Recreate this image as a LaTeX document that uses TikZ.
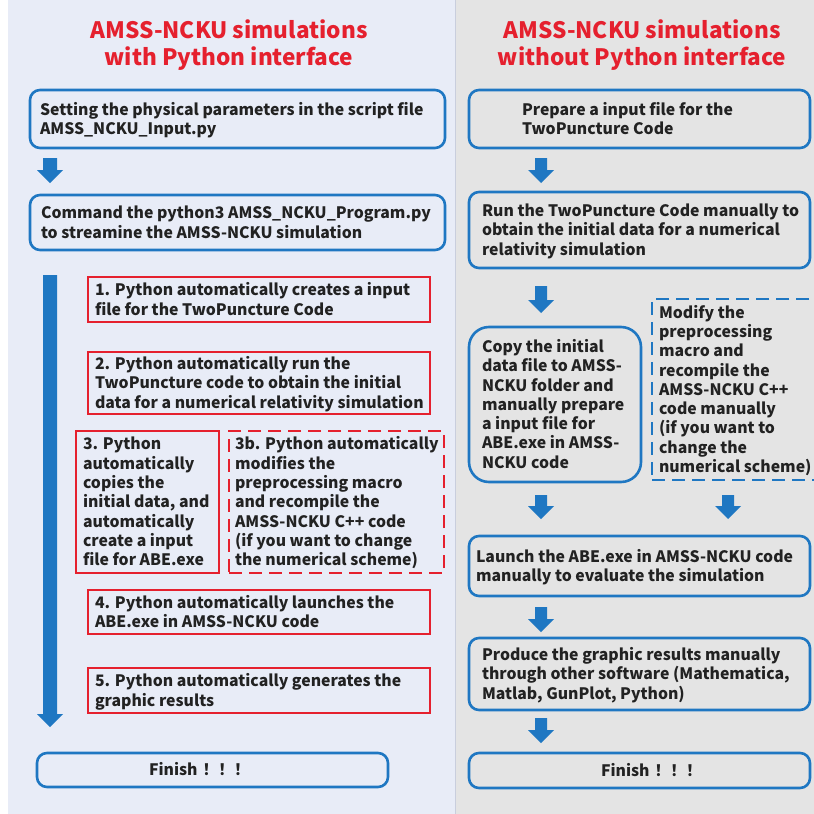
\documentclass[tikz,border=0pt]{standalone}
\usepackage{fontspec}
\setmainfont{Noto Sans CJK SC}
\usetikzlibrary{calc}
\definecolor{panelL}{HTML}{E8ECF7}
\definecolor{panelR}{HTML}{E4E4E4}
\definecolor{divider}{HTML}{C9CEDD}
\definecolor{mblue}{HTML}{1F77C2}
\definecolor{mred}{HTML}{E5202E}
\definecolor{txt}{HTML}{222222}
\newcommand\blockarr[3]{%
  \fill[mblue] ($(#1)+(-#3,0)$) -- ($(#2)+(-#3,-13)$) -- ($(#2)+(-13,-13)$) -- (#2)
    -- ($(#2)+(13,-13)$) -- ($(#2)+(#3,-13)$) -- ($(#1)+(#3,0)$) -- cycle;}
\newcommand\tb[2]{\makebox[#1pt][l]{\raisebox{-2pt}[\height][\depth]{\begin{tabular}{@{}l@{}}#2\end{tabular}}}}
\tikzset{
  every node/.style={text=txt, font=\fontsize{15.8}{19.3}\selectfont\bfseries},
  sz/.style 2 args={minimum width=#1pt, minimum height=#2pt, inner xsep=0pt, inner ysep=0pt},
  bluebox/.style={draw=mblue, line width=2.6pt, rounded corners=10pt},
  biground/.style={draw=mblue, line width=2.6pt, rounded corners=20pt},
  redbox/.style={draw=mred, line width=2.4pt},
  reddash/.style={draw=mred, line width=2.4pt, dash pattern=on 13pt off 7pt},
  bluedash/.style={draw=mblue, line width=2.4pt, dash pattern=on 13pt off 7pt},
  title/.style={text=mred, align=center, font=\fontsize{22.6}{27.5}\selectfont\bfseries},
}
\begin{document}
\begin{tikzpicture}[x=1pt,y=-1pt]
\useasboundingbox (0,0) rectangle (814,814);
\fill[panelL] (8,0) rectangle (455,814);
\fill[panelR] (455,0) rectangle (814,814);
\draw[divider, line width=1.2pt] (455.5,0) -- (455.5,814);

% titles
\node[title] (tL) at (229,45) {AMSS-NCKU simulations\\with Python interface};
\node[title] (tR) at (642,45) {AMSS-NCKU simulations\\without Python interface};

% left column
\node[bluebox, sz={415}{58}] (A) at (237.5,119) {\tb{395}{Setting the physical parameters in the script file\\AMSS\_NCKU\_Input.py}};
\node[bluebox, sz={415}{55}] (B) at (237.5,222.5) {\tb{393}{Command the python3 AMSS\_NCKU\_Program.py\\to streamine the AMSS-NCKU simulation}};
\node[redbox, sz={342}{45}] (s1) at (259,299.5) {\tb{328}{1. Python automatically creates a input\\file for the TwoPuncture Code}};
\node[redbox, sz={342}{62}] (s2) at (259,383) {\tb{328}{2. Python automatically run the\\TwoPuncture code to obtain the initial\\data for a numerical relativity simulation}};
\node[redbox, sz={143}{142}] (s3) at (147.5,502) {\tb{129}{3. Python\\automatically\\copies the\\initial data, and\\automatically\\create a input\\file for ABE.exe}};
\node[reddash, sz={215}{142}] (s3b) at (336.5,502) {\tb{203}{3b. Python automatically\\modifies the\\preprocessing macro\\and recompile the\\AMSS-NCKU C++ code\\(if you want to change\\the numerical scheme)}};
\node[redbox, sz={342}{44}] (s4) at (259,612) {\tb{328}{4. Python automatically launches the\\ABE.exe in AMSS-NCKU code}};
\node[redbox, sz={342}{45}] (s5) at (259,690.5) {\tb{328}{5. Python automatically generates the\\graphic results}};
\node[bluebox, sz={351}{34}] (fL) at (212.5,770) {\tb{127}{Finish\hspace{5pt}！！！}};

% right column
\node[bluebox, sz={341}{58}] (R1) at (639.5,119) {\tb{235}{Prepare a input file for the\\TwoPuncture Code}};
\node[bluebox, sz={341}{76}] (R2) at (639.5,230) {\tb{315}{Run the TwoPuncture Code manually to\\obtain the initial data for a numerical\\relativity simulation}};
\node[biground, sz={172}{155}] (R3) at (555,404.5) {\tb{146}{Copy the initial\\data file to AMSS-\\NCKU folder and\\manually prepare\\a input file for\\ABE.exe in AMSS-\\NCKU code}};
\node[bluedash, sz={178}{181}] (R4) at (741,389.5) {\tb{164}{Modify the\\preprocessing\\macro and\\recompile the\\AMSS-NCKU C++\\code manually\\(if you want to\\change the\\numerical scheme)}};
\node[bluebox, sz={341}{60}] (R5) at (639.5,566) {\tb{327}{Launch the ABE.exe in AMSS-NCKU code\\manually to evaluate the simulation}};
\node[bluebox, sz={341}{72}] (R6) at (639.5,674) {\tb{315}{Produce the graphic results manually\\through other software (Mathematica,\\Matlab, GunPlot, Python)}};
\node[bluebox, sz={341}{35}] (fR) at (639.5,770.5) {\tb{77}{Finish\hspace{5pt}！！！}};

% arrows
\coordinate (a1s) at (50,158);  \coordinate (a1e) at (50,183);
\coordinate (a2s) at (50,275);  \coordinate (a2e) at (50,727);
\coordinate (b1s) at (541,158); \coordinate (b1e) at (541,183);
\coordinate (b2s) at (541,286); \coordinate (b2e) at (541,313);
\coordinate (b3s) at (541,495); \coordinate (b3e) at (541,519);
\coordinate (b4s) at (728,495); \coordinate (b4e) at (728,519);
\coordinate (b5s) at (541,607); \coordinate (b5e) at (541,632);
\coordinate (b6s) at (541,718); \coordinate (b6e) at (541,743);
\blockarr{a1s}{a1e}{7}
\blockarr{a2s}{a2e}{7}
\blockarr{b1s}{b1e}{6}
\blockarr{b2s}{b2e}{6}
\blockarr{b3s}{b3e}{6}
\blockarr{b4s}{b4e}{6}
\blockarr{b5s}{b5e}{6}
\blockarr{b6s}{b6e}{6}
\end{tikzpicture}
\end{document}
